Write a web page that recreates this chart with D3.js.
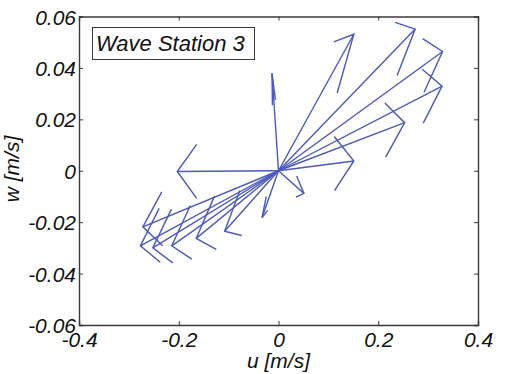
<!DOCTYPE html>
<html>
<head>
<meta charset="utf-8">
<script src="https://cdn.jsdelivr.net/npm/d3@7"></script>
<style>
  html, body { margin: 0; padding: 0; background: #fff; }
  svg { display: block; }
  text { font-family: "Liberation Sans", Arial, sans-serif; font-style: italic; fill: #111; }
</style>
</head>
<body>
<svg id="chart" width="508" height="374"></svg>
<script>
// Velocity vectors (u, w) in m/s, each drawn as an arrow from the origin
const uValues = [0.151, 0.274, 0.329, 0.328, 0.253, 0.151, -0.013, -0.203, 0.051, -0.033,
                 -0.272, -0.277, -0.252, -0.214, -0.165, -0.108];
const wValues = [0.0531, 0.0551, 0.0464, 0.0329, 0.0187, 0.0038, 0.0379, -0.0003, -0.0088, -0.0182,
                 -0.0218, -0.0292, -0.0300, -0.0292, -0.0263, -0.0235];

const xTicks = [-0.4, -0.2, 0, 0.2, 0.4];
const yTicks = [-0.06, -0.04, -0.02, 0, 0.02, 0.04, 0.06];
const xDomain = [-0.4, 0.4];
const yDomain = [-0.06, 0.06];
const stationLabel = "Wave Station 3";
const xLabel = "u [m/s]";
const yLabel = "w [m/s]";

const svg = d3.select("#chart");
const plot = { left: 79, top: 16.5, right: 478, bottom: 325 };

const x = d3.scaleLinear().domain(xDomain).range([plot.left, plot.right]);
const y = d3.scaleLinear().domain(yDomain).range([plot.bottom, plot.top]);

const axisColor = "#3a3a3a";
const fmt = d => d === 0 ? "0" : String(d);

// Axes box with inward ticks on all four sides
const gBottom = svg.append("g").attr("transform", `translate(0,${plot.bottom})`)
  .call(d3.axisBottom(x).tickValues(xTicks).tickSize(-4).tickPadding(7).tickFormat(fmt));
const gTop = svg.append("g").attr("transform", `translate(0,${plot.top})`)
  .call(d3.axisTop(x).tickValues(xTicks).tickSize(-4).tickFormat(""));
const gLeft = svg.append("g").attr("transform", `translate(${plot.left},0)`)
  .call(d3.axisLeft(y).tickValues(yTicks).tickSize(-4).tickPadding(3).tickFormat(fmt));
const gRight = svg.append("g").attr("transform", `translate(${plot.right},0)`)
  .call(d3.axisRight(y).tickValues(yTicks).tickSize(-4).tickFormat(""));

[gBottom, gTop, gLeft, gRight].forEach(g => {
  g.select(".domain").attr("stroke", axisColor).attr("stroke-width", 1.4);
  g.selectAll(".tick line").attr("stroke", axisColor).attr("stroke-width", 1);
  g.selectAll("text").attr("font-size", 21).attr("fill", "#111")
    .attr("font-family", "Liberation Sans, Arial, sans-serif").attr("font-style", "italic");
});
gBottom.selectAll("text").attr("dy", "0.71em");
gLeft.selectAll("text").attr("dy", "0.36em");

// Arrows: shaft from origin, head barbs computed in data units
const headMax = 0.039, headFrac = 0.3, widthFrac = 0.27;
const arrows = uValues.map((u, i) => {
  const w = wValues[i];
  const len = Math.hypot(u, w);
  const hl = Math.min(headFrac * len, headMax);
  const hw = widthFrac * hl;
  const dx = u / len, dy = w / len;
  const b1 = [u - hl * dx - hw * dy, w - hl * dy + hw * dx];
  const b2 = [u - hl * dx + hw * dy, w - hl * dy - hw * dx];
  return { u, w, b1, b2 };
});

const line = d3.line().x(d => x(d[0])).y(d => y(d[1]));
const gArrows = svg.append("g")
  .attr("fill", "none")
  .attr("stroke", "#4b59b9")
  .attr("stroke-width", 1.4)
  .attr("stroke-linejoin", "miter");

gArrows.selectAll("path.shaft").data(arrows).join("path")
  .attr("class", "shaft")
  .attr("d", d => line([[0, 0], [d.u, d.w]]));
gArrows.selectAll("path.head").data(arrows).join("path")
  .attr("class", "head")
  .attr("d", d => line([d.b1, [d.u, d.w], d.b2]));

// Station label box
const lg = svg.append("g");
lg.append("rect").attr("x", 92.5).attr("y", 27.5).attr("width", 162).attr("height", 32)
  .attr("fill", "#fff").attr("stroke", "#3a3a3a").attr("stroke-width", 1);
lg.append("text").attr("x", 96).attr("y", 51).attr("font-size", 22).text(stationLabel);

// Axis titles
svg.append("text").attr("x", (plot.left + plot.right) / 2).attr("y", 368)
  .attr("text-anchor", "middle").attr("font-size", 21).text(xLabel);
svg.append("text")
  .attr("transform", `translate(19,169) rotate(-90)`)
  .attr("text-anchor", "middle").attr("font-size", 21).text(yLabel);
</script>
</body>
</html>
